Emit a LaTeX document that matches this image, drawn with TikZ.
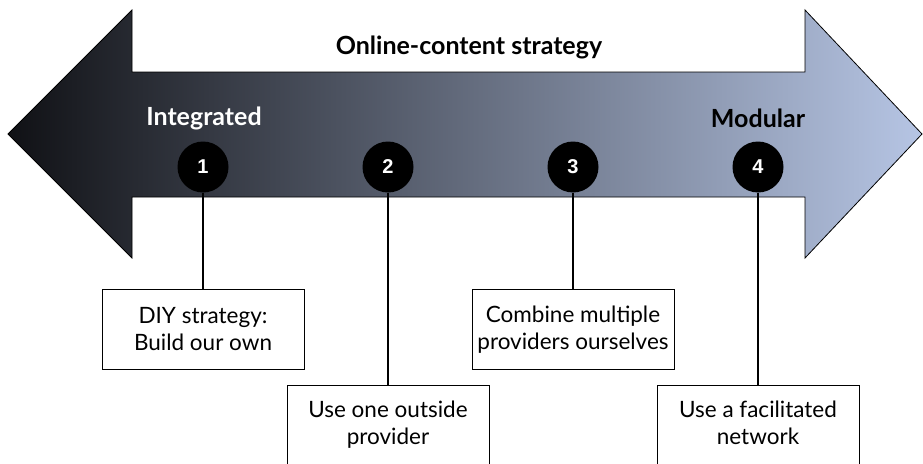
\documentclass[tikz,border=0pt]{standalone}
\usepackage{fontspec}
\setmainfont{Lato}
\newfontfamily\numfont{Liberation Sans}
\begin{document}
\begin{tikzpicture}[x=1pt,y=-1pt,
  numcirc/.style={circle,fill=black,minimum size=51pt,inner sep=0pt,text=white,font=\numfont\fontsize{20}{24}\selectfont\bfseries},
  endlabel/.style={font=\fontsize{25}{28}\selectfont\bfseries},
  boxtext/.style={font=\fontsize{22.5}{27.5}\selectfont,align=center},
  optbox/.style={draw=black,line width=0.8pt,fill=white,minimum width=202pt,boxtext},
  stem/.style={draw=black,line width=1.4pt}]
\useasboundingbox (0,0) rectangle (923,463);
\clip (0,0) rectangle (923,463);
\definecolor{darkend}{RGB}{16,17,21}
\definecolor{lightend}{RGB}{182,197,228}
% big double arrow
\shade[left color=darkend,right color=lightend,draw=black,line width=0.8pt]
  (8,134) -- (132,10) -- (132,72) -- (805,72) -- (805,10) -- (922,134)
  -- (805,258) -- (805,197) -- (132,197) -- (132,258) -- cycle;
\node[endlabel,text=black] (title) at (469,47) {Online-content strategy};
\node[endlabel,text=white] (integ) at (204,118) {Integrated};
\node[endlabel,text=black] (modul) at (758,118) {Modular};
% numbered circles
\node[numcirc] (c1) at (203,167) {1};
\node[numcirc] (c2) at (388,167) {2};
\node[numcirc] (c3) at (573,167) {3};
\node[numcirc] (c4) at (758,167) {4};
% boxes
\node[optbox,minimum height=80pt] (b1) at (203,329) {DIY strategy:\\Build our own};
\node[optbox,minimum height=80pt] (b3) at (573,329.5) {Combine multiple\\providers ourselves};
\node[optbox,minimum height=100pt,anchor=north] (b2) at (388,385) {};
\node[optbox,minimum height=100pt,anchor=north] (b4) at (758,385) {};
\node[boxtext,anchor=north] (t2) at (388,397) {Use one outside\\provider};
\node[boxtext,anchor=north] (t4) at (758,397) {Use a facilitated\\network};
% stems
\draw[stem] (c1.south) -- (b1.north);
\draw[stem] (c2.south) -- (b2.north);
\draw[stem] (c3.south) -- (b3.north);
\draw[stem] (c4.south) -- (b4.north);
\end{tikzpicture}
\end{document}
